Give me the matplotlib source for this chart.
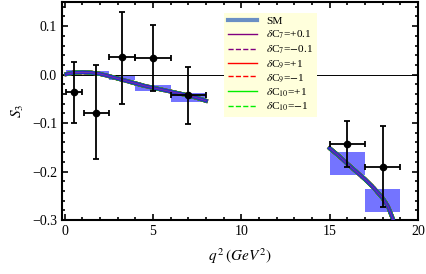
# S3 observable vs q^2: SM prediction, NP variations and data

import numpy as np
import matplotlib.pyplot as plt
from matplotlib.patches import Rectangle
from matplotlib.ticker import MultipleLocator

plt.rcParams['font.family'] = 'Liberation Serif'
plt.rcParams['mathtext.fontset'] = 'stix'

# measured points (bin centres, bin edges, value, errors)
data_x = [0.54, 1.8, 3.25, 5.0, 7.0, 16.0, 18.0]
data_xlo = [0.1, 1.1, 2.5, 4.0, 6.0, 15.0, 17.0]
data_xhi = [0.98, 2.5, 4.0, 6.0, 8.0, 17.0, 19.0]
data_y = [-0.036, -0.079, 0.036, 0.035, -0.043, -0.144, -0.190]
data_up = [0.063, 0.099, 0.094, 0.068, 0.059, 0.048, 0.083]
data_dn = [0.064, 0.096, 0.096, 0.069, 0.059, 0.046, 0.084]

# SM binned predictions
bin_lo = [0.1, 1.1, 2.5, 4.0, 6.0, 15.0, 17.0]
bin_hi = [0.98, 2.5, 4.0, 6.0, 8.0, 17.0, 19.0]
box_lo = [-0.002, 0.000, -0.012, -0.033, -0.056, -0.207, -0.284]
box_hi = [0.010, 0.007, -0.003, -0.021, -0.038, -0.159, -0.236]

# SM curve, low and high q^2 regions
q_low = [0.1, 0.5, 1.0, 1.5, 2.0, 2.5, 3.0, 3.5, 4.0, 4.5, 5.0, 5.5, 6.0, 6.5, 7.0, 7.5, 8.0]
s3_low = [0.001, 0.004, 0.005, 0.004, 0.0015, -0.003, -0.008, -0.013, -0.018, -0.023,
          -0.027, -0.031, -0.035, -0.039, -0.043, -0.048, -0.054]
q_high = [15.0, 15.5, 16.0, 16.5, 17.0, 17.5, 18.0, 18.3, 18.6, 18.8]
s3_high = [-0.152, -0.167, -0.184, -0.200, -0.216, -0.234, -0.255, -0.272, -0.300, -0.320]

fig = plt.figure(figsize=(4.27, 2.74), dpi=100)
ax = fig.add_axes([0.145, 0.197, 0.834, 0.796])

for lo, hi, b0, b1 in zip(bin_lo, bin_hi, box_lo, box_hi):
    ax.add_patch(Rectangle((lo, b0), hi - lo, b1 - b0, facecolor='#7474ff',
                           edgecolor='none', zorder=1))

ax.axhline(0, color='black', lw=0.7, zorder=2)

curves = [
    ('SM', '#6a8fc4', '-', 3.0),
    (r'$\delta$C$_7$=+0.1', '#800080', '-', 1.0),
    (r'$\delta$C$_7$=$-$0.1', '#800080', '--', 1.0),
    (r'$\delta$C$_9$=+1', '#ff0000', '-', 1.0),
    (r'$\delta$C$_9$=$-$1', '#ff0000', '--', 1.0),
    (r'$\delta$C$_{10}$=+1', '#00ee00', '-', 1.0),
    (r'$\delta$C$_{10}$=$-$1', '#00ee00', '--', 1.0),
]
handles = []
for name, col, ls, lw in curves:
    if name == 'SM':
        kw = dict(color='#2a2ac8', ls='-', lw=2.6, zorder=3)
    else:
        kw = dict(color=col, ls=ls, lw=2.9, zorder=2.5)
    ax.plot(q_low, s3_low, **kw)
    ax.plot(q_high, s3_high, **kw)
    h, = ax.plot([], [], color=col, ls=ls, lw=lw, label=name)
    handles.append(h)
# thin NP line showing through the SM band
ax.plot(q_low, s3_low, color='#ff4060', lw=0.5, alpha=0.5, zorder=3.5)
ax.plot(q_high, s3_high, color='#ff4060', lw=0.5, alpha=0.5, zorder=3.5)

xerr = [np.subtract(data_x, data_xlo), np.subtract(data_xhi, data_x)]
ax.errorbar(data_x, data_y, yerr=[data_dn, data_up], xerr=xerr, fmt='o',
            color='black', ms=4.5, lw=1.3, capsize=2.5, capthick=1.3, zorder=5)

ax.set_xlim(-0.15, 20)
ax.set_ylim(-0.3, 0.15)
ax.xaxis.set_major_locator(MultipleLocator(5))
ax.xaxis.set_minor_locator(MultipleLocator(1))
ax.yaxis.set_major_locator(MultipleLocator(0.1))
ax.yaxis.set_minor_locator(MultipleLocator(0.02))
ax.set_yticks([-0.3, -0.2, -0.1, 0.0, 0.1])
ax.set_yticklabels(['\u22120.3', '\u22120.2', '\u22120.1', '0.0', '0.1'])
ax.tick_params(which='both', direction='in', top=True, right=True, labelsize=10,
               width=1.2)
ax.tick_params(which='major', length=4)
ax.tick_params(which='minor', length=2.5)
for sp in ax.spines.values():
    sp.set_linewidth(1.5)

ax.set_xlabel(r'$q^{\,2}\,(GeV^2)$', fontsize=11, labelpad=6)
ax.set_ylabel(r'$S_3$', fontsize=11, labelpad=4)

leg = ax.legend(handles=handles, loc='upper left', bbox_to_anchor=(0.44, 0.975),
                fontsize=8.2, frameon=True, fancybox=False, facecolor='#ffffdc',
                edgecolor='none', framealpha=1, handlelength=2.6, labelspacing=0.2,
                borderpad=0.3, handletextpad=0.8)

fig.savefig('out.png', dpi=100)
